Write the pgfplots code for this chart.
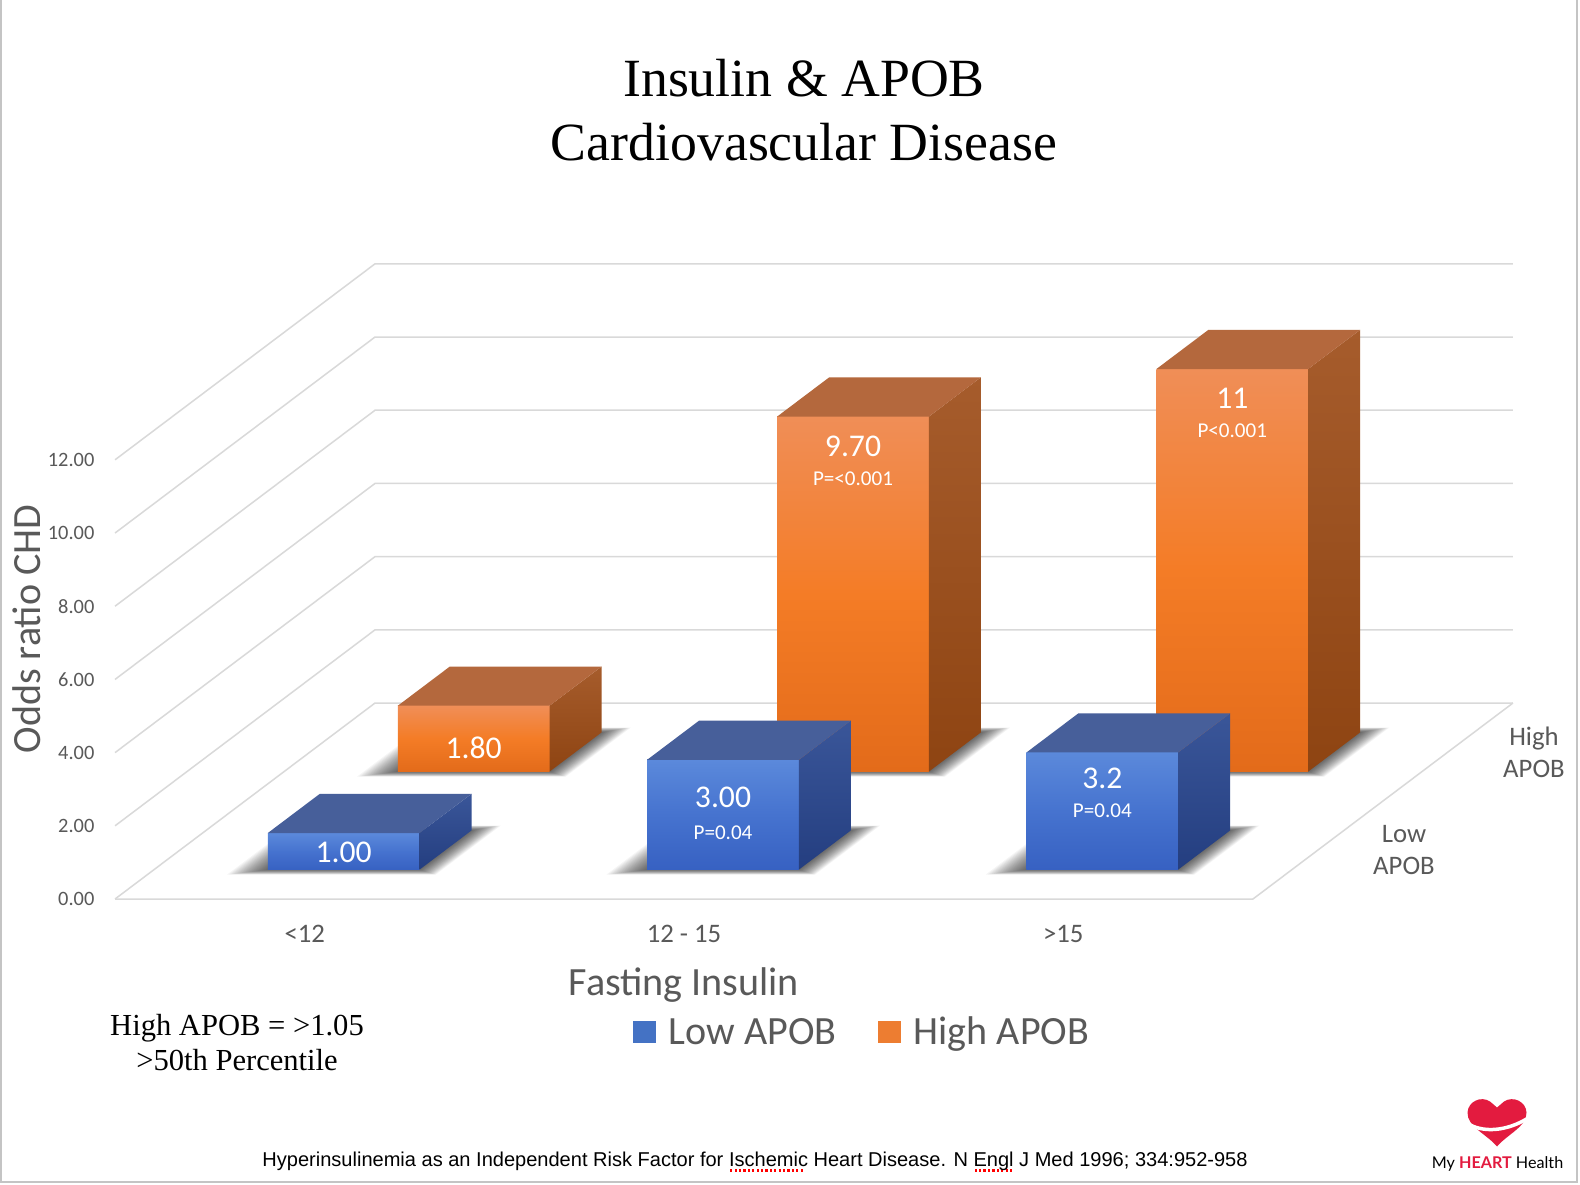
\documentclass[border=0pt]{standalone}
\usepackage{pgfplots}
\pgfplotsset{compat=1.18}
\usepackage{fontspec}
\setmainfont{Carlito}
\newfontfamily\timesf{Liberation Serif}
\newfontfamily\arialf{Liberation Sans}
\newfontfamily\latof{Lato}
\definecolor{txt}{HTML}{595959}
\definecolor{gridc}{HTML}{D9D9D9}
\definecolor{bordc}{HTML}{C4C4C4}
\definecolor{bfTop}{HTML}{5B89DB}
\definecolor{bfMid}{HTML}{4673CF}
\definecolor{bfBot}{HTML}{3761C2}
\definecolor{btTop}{HTML}{475F9A}
\definecolor{bsTop}{HTML}{3A5699}
\definecolor{bsBot}{HTML}{243E80}
\definecolor{ofTop}{HTML}{F08E57}
\definecolor{ofMid}{HTML}{F47C26}
\definecolor{ofBot}{HTML}{E36B1A}
\definecolor{otTop}{HTML}{B4683D}
\definecolor{osTop}{HTML}{A65C2C}
\definecolor{osBot}{HTML}{8E4412}
\definecolor{legB}{HTML}{4472C4}
\definecolor{legO}{HTML}{ED7D31}
\definecolor{heart}{HTML}{E31B3F}

% one 3-D bar: x centre, row (y centre), value, colour prefix
\newcommand{\cuboid}[4]{%
 \pgfmathsetmacro\xa{#1-0.2}\pgfmathsetmacro\xb{#1+0.2}%
 \pgfmathsetmacro\ya{#2-0.2}\pgfmathsetmacro\yb{#2+0.2}%
 \addplot3[forget plot, draw=none, top color=#4fTop, bottom color=#4fBot, middle color=#4fMid] coordinates {(\xa,\ya,0) (\xb,\ya,0) (\xb,\ya,#3) (\xa,\ya,#3)};%
 \addplot3[forget plot, draw=none, top color=#4sTop, bottom color=#4sBot] coordinates {(\xb,\ya,0) (\xb,\yb,0) (\xb,\yb,#3) (\xb,\ya,#3)};%
 \addplot3[forget plot, draw=none, fill=#4tTop] coordinates {(\xa,\ya,#3) (\xb,\ya,#3) (\xb,\yb,#3) (\xa,\yb,#3)};%
}
% one layer of the soft floor shadow of a bar: x centre, row, spread factor
\newcommand{\shadowlayer}[3]{%
 \pgfmathsetmacro\sxa{#1-0.2-0.09*#3}\pgfmathsetmacro\sxb{#1+0.2+0.06*#3}%
 \pgfmathsetmacro\sya{#2-0.2-0.05*#3}\pgfmathsetmacro\syb{#2+0.2+0.05*#3}%
 \addplot3[forget plot, draw=none, fill=black, fill opacity=0.04] coordinates {(\sxa,\sya,0) (\sxb,\sya,0) (\sxb,\syb,0) (\sxa,\syb,0)};%
}
\newcommand{\barshadow}[2]{\pgfplotsforeachungrouped\f in {1,0.95,...,0.05}{\shadowlayer{#1}{#2}{\f}}}
\newcommand\spell[1]{\setbox0=\hbox{#1}\leavevmode\rlap{\textcolor{red}{\raisebox{-0.28em}{\hbox to\wd0{\leaders\hbox to 0.22em{\hss\rule{0.11em}{0.11em}\hss}\hfill}}}}\box0\relax}
\tikzset{ztick/.style={anchor=east, inner sep=0pt, text=txt, xshift=-0.2cm, font=\fontsize{5.8}{7}\selectfont}}

\begin{document}
\begin{tikzpicture}
\useasboundingbox (0,0) rectangle (15.80,-11.84);
\fill[white] (0,0) rectangle (15.80,-11.84);
\draw[bordc, line width=0.025cm] (0.01,0) -- (0.01,-11.82) -- (15.77,-11.82) -- (15.77,0);

\begin{scope}[shift={(3.047,-8.99)}]
\begin{axis}[
  at={(0,0)}, anchor=origin,
  x={(3.793cm,0cm)}, y={(1.30cm,0.98cm)}, z={(0cm,0.366cm)},
  xmin=-0.5, xmax=2.5, ymin=0, ymax=2, zmin=0, zmax=12,
  hide axis, clip=false]
% walls and floor
\pgfplotsinvokeforeach{0,2,4,6,8,10,12}{%
  \addplot3[forget plot, gridc, line width=0.015cm] coordinates {(-0.5,0,#1) (-0.5,2,#1) (2.5,2,#1)};}
\addplot3[forget plot, gridc, line width=0.015cm] coordinates {(-0.5,0,0) (2.5,0,0) (2.5,2,0)};
% z tick labels
\node[ztick] at (axis cs:-0.5,0,0) {0.00};
\node[ztick] at (axis cs:-0.5,0,2) {2.00};
\node[ztick] at (axis cs:-0.5,0,4) {4.00};
\node[ztick] at (axis cs:-0.5,0,6) {6.00};
\node[ztick] at (axis cs:-0.5,0,8) {8.00};
\node[ztick] at (axis cs:-0.5,0,10) {10.00};
\node[ztick] at (axis cs:-0.5,0,12) {12.00};
% category labels
\node[text=txt, yshift=-0.35cm, font=\fontsize{7.6}{9.1}\selectfont] at (axis cs:0,0,0) {<12};
\node[text=txt, yshift=-0.35cm, font=\fontsize{7.6}{9.1}\selectfont] at (axis cs:1,0,0) {12 - 15};
\node[text=txt, yshift=-0.35cm, font=\fontsize{7.6}{9.1}\selectfont] at (axis cs:2,0,0) {>15};
% series (row) labels
\node[text=txt, xshift=0.86cm, align=center, font=\fontsize{7.6}{9.1}\selectfont] at (axis cs:2.5,0.5,0) {Low\\APOB};
\node[text=txt, xshift=0.86cm, align=center, font=\fontsize{7.6}{9.1}\selectfont] at (axis cs:2.5,1.5,0) {High\\APOB};

% High APOB (back row)
\barshadow{0}{1.5}\barshadow{1}{1.5}\barshadow{2}{1.5}
\cuboid{0}{1.5}{1.80}{o}
\cuboid{1}{1.5}{9.70}{o}
\cuboid{2}{1.5}{11}{o}
% Low APOB (front row)
\barshadow{0}{0.5}\barshadow{1}{0.5}\barshadow{2}{0.5}
\cuboid{0}{0.5}{1.00}{b}
\cuboid{1}{0.5}{3.00}{b}
\cuboid{2}{0.5}{3.2}{b}

% data labels
\node[text=white, font=\fontsize{9}{10}\selectfont] at (axis cs:0,0.3,0.46) {1.00};
\node[text=white, font=\fontsize{9}{10}\selectfont] at (axis cs:1,0.3,1.97) {3.00};
\node[text=white, font=\fontsize{6}{7}\selectfont] at (axis cs:1,0.3,1.0) {P=0.04};
\node[text=white, font=\fontsize{9}{10}\selectfont] at (axis cs:2,0.3,2.5) {3.2};
\node[text=white, font=\fontsize{6}{7}\selectfont] at (axis cs:2,0.3,1.6) {P=0.04};
\node[text=white, font=\fontsize{9}{10}\selectfont] at (axis cs:0,1.3,0.66) {1.80};
\node[text=white, font=\fontsize{9}{10}\selectfont] at (axis cs:1,1.3,8.9) {9.70};
\node[text=white, font=\fontsize{6}{7}\selectfont] at (axis cs:1,1.3,8.0) {P=<0.001};
\node[text=white, font=\fontsize{9}{10}\selectfont] at (axis cs:2,1.3,10.2) {11};
\node[text=white, font=\fontsize{6}{7}\selectfont] at (axis cs:2,1.3,9.3) {P<0.001};
\end{axis}
\end{scope}

% titles
\node[anchor=base, font=\timesf\fontsize{15.3}{18.3}\selectfont] at (8.04,-0.97) {Insulin \& APOB};
\node[anchor=base, font=\timesf\fontsize{15.3}{18.3}\selectfont] at (8.04,-1.61) {Cardiovascular Disease};
\node[rotate=90, text=txt, font=\fontsize{11.4}{13}\selectfont] at (0.27,-6.29) {Odds ratio CHD};
\node[anchor=base, text=txt, font=\fontsize{11.4}{13}\selectfont] at (6.84,-9.95) {Fasting Insulin};
% legend
\fill[legB] (6.33,-10.21) rectangle (6.56,-10.43);
\node[anchor=base west, inner sep=0, text=txt, font=\fontsize{11.4}{13}\selectfont] at (6.68,-10.44) {Low APOB};
\fill[legO] (8.78,-10.21) rectangle (9.01,-10.43);
\node[anchor=base west, inner sep=0, text=txt, font=\fontsize{11.4}{13}\selectfont] at (9.13,-10.44) {High APOB};
% note
\node[anchor=base, font=\timesf\fontsize{8.7}{10}\selectfont] at (2.37,-10.35) {High APOB = >1.05};
\node[anchor=base, font=\timesf\fontsize{8.7}{10}\selectfont] at (2.37,-10.70) {>50th Percentile};
% citation
\node[anchor=base, font=\arialf\fontsize{5.7}{7}\selectfont] at (7.55,-11.66) {Hyperinsulinemia as an Independent Risk Factor for \spell{Ischemic} Heart Disease. N \spell{Engl} J Med 1996; 334:952-958};
% logo
\begin{scope}[shift={(14.97,-11.215)}]
\fill[heart] (0,-0.25) .. controls (-0.1,-0.13) and (-0.30,-0.05) .. (-0.295,0.09) .. controls (-0.29,0.2) and (-0.16,0.26) .. (-0.07,0.2) .. controls (-0.03,0.17) .. (0,0.14) .. controls (0.03,0.17) .. (0.07,0.2) .. controls (0.16,0.26) and (0.29,0.2) .. (0.295,0.09) .. controls (0.30,-0.05) and (0.1,-0.13) .. (0,-0.25) -- cycle;
\draw[white, line width=0.035cm] (-0.31,-0.01) .. controls (-0.15,-0.12) and (0.1,-0.1) .. (0.32,0.04);
\end{scope}
\node[anchor=base, font=\latof\fontsize{4.6}{5.5}\selectfont] at (14.975,-11.68) {My {\bfseries\color{heart}HEART} Health};
\end{tikzpicture}
\end{document}
